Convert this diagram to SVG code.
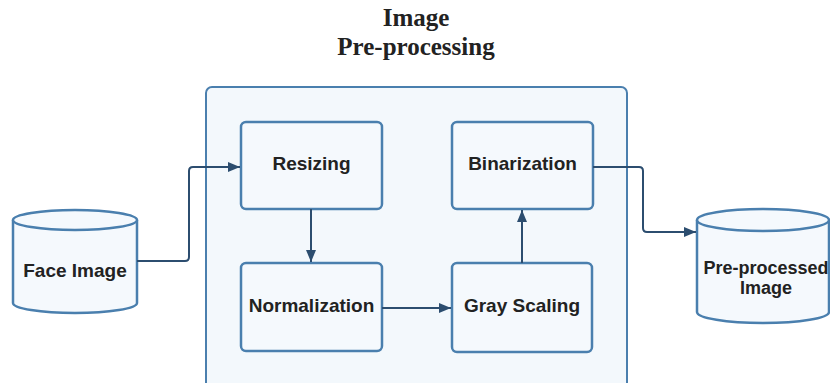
<svg xmlns="http://www.w3.org/2000/svg" width="830" height="383" viewBox="0 0 830 383">
  <style>
    .frame { fill: #f3f8fc; stroke: #4a7fae; stroke-width: 2; }
    .box { fill: #f5f9fd; stroke: #4a7fae; stroke-width: 2.5; }
    .db { fill: #f5f9fd; stroke: #4a7fae; stroke-width: 2.5; }
    .label { font-family: "Liberation Sans", Arial, sans-serif; font-weight: bold; font-size: 19px; fill: #222; text-anchor: middle; }
    .small { font-size: 18px; }
    .title { font-family: "Liberation Serif", "Times New Roman", serif; font-weight: bold; font-size: 25px; fill: #222; text-anchor: middle; }
    .conn { fill: none; stroke: #2c4d6f; stroke-width: 2; }
  </style>
  <defs>
    <marker id="arrow" viewBox="0 0 12 10" refX="12" refY="5" markerWidth="12" markerHeight="10" markerUnits="userSpaceOnUse" orient="auto">
      <path d="M0,0 L12,5 L0,10 Z" fill="#2c4d6f"/>
    </marker>
  </defs>
  <rect width="830" height="383" fill="#ffffff"/>

  <!-- title above the pre-processing frame -->
  <g id="title">
    <text class="title" x="416" y="26">Image</text>
    <text class="title" x="416" y="55">Pre-processing</text>
  </g>

  <!-- pre-processing frame -->
  <g id="preprocessing">
    <rect class="frame" x="206" y="87" width="421" height="310" rx="6"/>
  </g>

  <g id="resizing">
    <rect class="box" x="241" y="122" width="141" height="87" rx="5"/>
    <text class="label" x="311.5" y="170">Resizing</text>
  </g>

  <g id="binarization">
    <rect class="box" x="452" y="122" width="141" height="87" rx="5"/>
    <text class="label" x="522.5" y="170">Binarization</text>
  </g>

  <g id="normalization">
    <rect class="box" x="241" y="263" width="141" height="88" rx="5"/>
    <text class="label" x="311.5" y="312">Normalization</text>
  </g>

  <g id="grayscaling">
    <rect class="box" x="452" y="263" width="140" height="89" rx="5"/>
    <text class="label" x="522" y="312">Gray Scaling</text>
  </g>

  <g id="faceimage">
    <path class="db" d="M13,220 A62,10 0 0 1 137,220 V303 A62,10 0 0 1 13,303 Z"/>
    <path class="db" d="M13,220 A62,10 0 0 0 137,220" fill="none"/>
    <text class="label" x="75" y="277">Face Image</text>
  </g>

  <g id="preprocessedimage">
    <path class="db" d="M697,220 A66,11 0 0 1 829,220 V312 A66,11 0 0 1 697,312 Z"/>
    <path class="db" d="M697,220 A66,11 0 0 0 829,220" fill="none"/>
    <text class="label small" x="766" y="274">Pre-processed</text>
    <text class="label small" x="766" y="294">Image</text>
  </g>

  <!-- connectors -->
  <g id="connectors">
    <path class="conn" d="M137,261 H185 Q189,261 189,257 V171 Q189,167 193,167 H240" marker-end="url(#arrow)"/>
    <path class="conn" d="M311,209 V262" marker-end="url(#arrow)"/>
    <path class="conn" d="M382,308 H451" marker-end="url(#arrow)"/>
    <path class="conn" d="M522,263 V210" marker-end="url(#arrow)"/>
    <path class="conn" d="M593,167 H639 Q643,167 643,171 V228 Q643,232 647,232 H696" marker-end="url(#arrow)"/>
  </g>
</svg>
